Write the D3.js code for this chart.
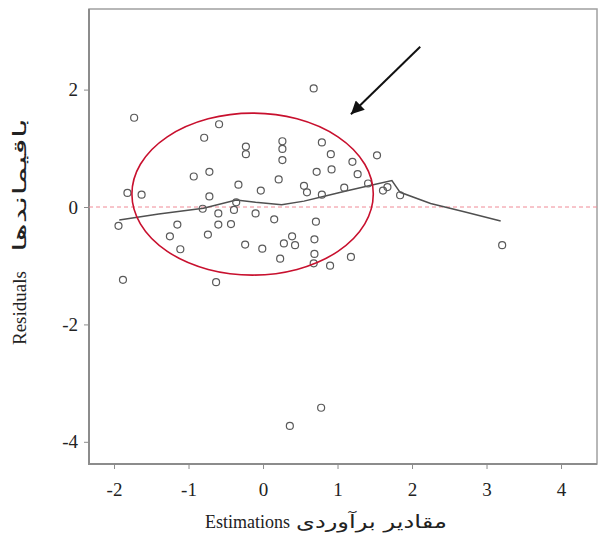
<!DOCTYPE html>
<html>
<head>
<meta charset="utf-8">
<script src="https://cdn.jsdelivr.net/npm/d3@7.9.0/dist/d3.min.js"></script>
<style>
  body { margin: 0; background: #fff; }
  text { font-family: "Liberation Serif", "DejaVu Serif", serif; fill: #222; }
  text.fa { font-family: "DejaVu Sans", "Noto Sans", sans-serif; }
</style>
</head>
<body>
<svg id="chart" width="601" height="546"></svg>
<script>
// fitted values (x) and residuals (y)
const estimations = [
  -1.94, -1.88, -1.82, -1.73, -1.63, -1.25, -1.15, -1.11, -0.93, -0.79,
  -0.72, -0.59, -0.72, -0.81, -0.60, -0.60, -0.74, -0.63, -0.43, -0.36,
  -0.39, -0.33, -0.23, -0.23, -0.24, -0.10, -0.03, -0.01, 0.15, 0.21,
  0.26, 0.26, 0.26, 0.23, 0.28, 0.39, 0.43, 0.36, 0.55, 0.59,
  0.68, 0.72, 0.71, 0.69, 0.69, 0.68, 0.78, 0.79, 0.79, 0.91,
  0.92, 0.90, 1.09, 1.18, 1.20, 1.27, 1.41, 1.53, 1.61, 1.67,
  1.84, 3.21
];
const residuals = [
  -0.32, -1.24, 0.24, 1.52, 0.21, -0.50, -0.30, -0.72, 0.52, 1.18,
  0.60, 1.41, 0.18, -0.03, -0.11, -0.30, -0.47, -1.28, -0.29, 0.08,
  -0.05, 0.38, 1.03, 0.90, -0.64, -0.11, 0.28, -0.71, -0.21, 0.47,
  1.12, 0.99, 0.80, -0.88, -0.62, -0.50, -0.65, -3.73, 0.36, 0.25,
  2.02, 0.60, -0.25, -0.55, -0.80, -0.96, -3.42, 0.21, 1.10, 0.90,
  0.64, -1.00, 0.33, -0.85, 0.77, 0.56, 0.40, 0.88, 0.28, 0.34,
  0.20, -0.65
];

// smoother through the residuals
const smoothX = [-1.93, -1.4, -0.8, -0.36, -0.1, 0.25, 0.55, 0.85, 1.1, 1.45, 1.73, 1.84, 2.25, 2.7, 3.19];
const smoothY = [-0.22, -0.12, -0.02, 0.12, 0.08, 0.04, 0.10, 0.19, 0.27, 0.37, 0.45, 0.25, 0.06, -0.08, -0.24];

const xTicks = [-2, -1, 0, 1, 2, 3, 4];
const yTicks = [-4, -2, 0, 2];

// highlighted region (center, radii) and arrow (tail, tip) in data units
const ellipseCenter = [-0.14, 0.22];
const ellipseRadius = [1.62, 1.38];
const arrowFrom = [2.11, 2.73];
const arrowTo = [1.18, 1.58];

const margin = { top: 9, left: 89 };
const width = 508, height = 455;
const serif = '"Liberation Serif", "DejaVu Serif", serif';

let x = d3.scaleLinear().domain([-2.336, 4.483]).range([0, width]);
let y = d3.scaleLinear().domain([-4.378, 3.373]).range([height, 0]);

const svg = d3.select('#chart');
const g = svg.append('g').attr('transform', `translate(${margin.left},${margin.top})`);

// frame: top and right lighter, left and bottom are the axes
g.append('rect')
  .attr('width', width).attr('height', height)
  .attr('fill', 'none').attr('stroke', '#a0a0a0').attr('stroke-width', 1.5);
g.append('path')
  .attr('d', `M0,0V${height}H${width}`)
  .attr('fill', 'none').attr('stroke', '#8c8c8c').attr('stroke-width', 2);

let xAxis = g.append('g')
  .attr('transform', `translate(0,${height})`)
  .call(d3.axisBottom(x).tickValues(xTicks).tickSize(5).tickPadding(14).tickFormat(d3.format('d')));
let yAxis = g.append('g')
  .call(d3.axisLeft(y).tickValues(yTicks).tickSize(5).tickPadding(6).tickFormat(d3.format('d')));

[xAxis, yAxis].forEach(a => {
  a.attr('font-family', serif).attr('font-size', 19);
  a.select('.domain').remove();
  a.selectAll('line').attr('stroke', '#8c8c8c');
  a.selectAll('text')
    .attr('fill', '#222')
    .text(d => d < 0 ? '-' + Math.abs(d) : d);
});

// zero reference line
g.append('line')
  .attr('x1', 0).attr('x2', width)
  .attr('y1', y(0)).attr('y2', y(0))
  .attr('stroke', '#f08a96').attr('stroke-width', 1)
  .attr('stroke-dasharray', '4,3');

// smoother
let line = d3.line().x(d => x(d[0])).y(d => y(d[1]));
g.append('path')
  .datum(d3.zip(smoothX, smoothY))
  .attr('d', line)
  .attr('fill', 'none').attr('stroke', '#505050').attr('stroke-width', 1.5);

// points
g.selectAll('circle.pt')
  .data(d3.zip(estimations, residuals))
  .enter()
  .append('circle')
  .attr('class', 'pt')
  .attr('cx', d => x(d[0]))
  .attr('cy', d => y(d[1]))
  .attr('r', 3.5)
  .attr('fill', 'none').attr('stroke', '#5a5a5a').attr('stroke-width', 1.2);

// red ellipse
g.append('ellipse')
  .attr('cx', x(ellipseCenter[0])).attr('cy', y(ellipseCenter[1]))
  .attr('rx', x(ellipseRadius[0]) - x(0))
  .attr('ry', y(0) - y(ellipseRadius[1]))
  .attr('fill', 'none').attr('stroke', '#c8102e').attr('stroke-width', 1.6);

// arrow
svg.append('defs').append('marker')
  .attr('id', 'head')
  .attr('markerUnits', 'userSpaceOnUse')
  .attr('viewBox', '0 0 10 10')
  .attr('refX', 10).attr('refY', 5)
  .attr('markerWidth', 17).attr('markerHeight', 13)
  .attr('orient', 'auto')
  .append('path').attr('d', 'M0,0 L10,5 L0,10 Z').attr('fill', '#111');

g.append('line')
  .attr('x1', x(arrowFrom[0])).attr('y1', y(arrowFrom[1]))
  .attr('x2', x(arrowTo[0])).attr('y2', y(arrowTo[1]))
  .attr('stroke', '#111').attr('stroke-width', 2)
  .attr('marker-end', 'url(#head)');

// persian text widened with a horizontal scale so the letters stay joined
function widePersian(base, txt, size, target) {
  let t = svg.append('text').attr('class', 'fa').style('font-size', size + 'px').text(txt);
  let k = target / t.node().getComputedTextLength();
  t.attr('transform', `${base} scale(${k},1)`);
  return t;
}

// axis titles
svg.append('text')
  .attr('x', 205).attr('y', 528)
  .style('font-size', '18px')
  .text('Estimations');
widePersian('translate(296,528)', 'مقادیر برآوردی', 18, 151);

svg.append('text')
  .attr('transform', 'translate(26,345) rotate(-90)')
  .style('font-size', '19px')
  .text('Residuals');
widePersian('translate(26,252) rotate(-90)', 'باقیماندها', 18, 134);
</script>
</body>
</html>
